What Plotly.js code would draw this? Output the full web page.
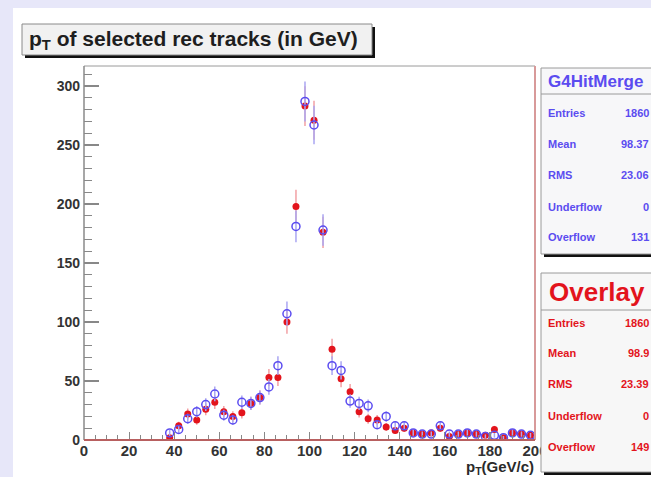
<!DOCTYPE html>
<html>
<head>
<meta charset="utf-8">
<script src="https://cdn.plot.ly/plotly-3.0.1.min.js"></script>
<style>
  html, body { margin: 0; padding: 0; background: #e7e7f9; width: 651px; height: 477px; overflow: hidden; }
  #chart { position: absolute; left: 13px; top: 8px; width: 638px; height: 469px; }
</style>
</head>
<body>
<div id="chart"></div>
<script>
// ---- data ----
const binCenters = [38,42,46,50,54,58,62,66,70,74,78,82,86,90,94,98,102,106,110,114,118,122,126,130,134,138,142,146,150,154,158,162,166,170,174,178,182,186,190,194,198];
const g4HitMerge = [6,9,18,24,30,39,21,17,32,31,36,45,63,107,181,287,267,178,63,59,33,31,29,13,20,12,12,6,5,5,12,5,5,6,5,3,4,2,6,5,4];
const overlay    = [2,12,22,17,26,32,24,20,23,31,36,53,53,100,198,283,271,176,77,52,41,24,18,17,11,8,10,6,5,6,10,3,5,6,5,4,9,2,6,5,4];
const xTickVals = [0,20,40,60,80,100,120,140,160,180,200];
const yTickVals = [0,50,100,150,200,250,300];
const statLabels = ["Entries","Mean","RMS","Underflow","Overflow"];
const statsG4 = ["1860","98.37","23.06","0","131"];
const statsOverlay = ["1860","98.9","23.39","0","149"];
const titleText = "p<sub>T</sub> of selected rec tracks (in GeV)";
const xTitleText = "p<sub>T</sub>(GeV/c)";

// ---- geometry helpers (full-image pixel -> paper coords) ----
const OX = 13, OY = 8, W = 638, H = 469;
const ML = 71, MR = 116, MT = 58, MB = 37;
const PW = W - ML - MR, PH = H - MT - MB;
const X = px => (px - OX - ML) / PW;
const Y = py => (H - MB - (py - OY)) / PH;

const RED = '#e3141c', BLUE = '#5b4cf0';
const font = 'Liberation Sans, Arial, Helvetica, sans-serif';

const traces = [
  { x: binCenters, y: overlay, type: 'scatter', mode: 'markers', name: 'Overlay',
    marker: { symbol: 'circle', size: 7, color: RED },
    error_y: { type: 'sqrt', visible: true, color: '#f2a0a4', thickness: 1.5, width: 0 } },
  { x: binCenters, y: g4HitMerge, type: 'scatter', mode: 'markers', name: 'G4HitMerge',
    marker: { symbol: 'circle-open', size: 8, color: BLUE, line: { width: 1.5, color: BLUE } },
    error_y: { type: 'sqrt', visible: true, color: '#aaa6f2', thickness: 1.5, width: 0 } }
];

const shapes = [];
const annotations = [];
function rect(x0, y0, x1, y1, fill, line, lw) {
  shapes.push({ type: 'rect', xref: 'paper', yref: 'paper', x0: X(x0), x1: X(x1), y0: Y(y1), y1: Y(y0),
    fillcolor: fill, line: { color: line || 'rgba(0,0,0,0)', width: lw || 0 }, layer: 'above' });
}
function hline(x0, x1, y, color, w) {
  shapes.push({ type: 'line', xref: 'paper', yref: 'paper', x0: X(x0), x1: X(x1), y0: Y(y), y1: Y(y),
    line: { color: color, width: w }, layer: 'above' });
}
function vline(x, y0, y1, color, w) {
  shapes.push({ type: 'line', xref: 'paper', yref: 'paper', x0: X(x), x1: X(x), y0: Y(y0), y1: Y(y1),
    line: { color: color, width: w }, layer: 'above' });
}
function text(t, px, py, size, color, anchor) {
  annotations.push({ text: t, xref: 'paper', yref: 'paper', x: X(px), y: Y(py), showarrow: false,
    xanchor: anchor || 'left', yanchor: 'middle', font: { family: font, size: size, color: color, weight: 'bold' } });
}

// frame
hline(84, 535, 66, '#9a9a9a', 1);
vline(84, 66, 440, '#8a8a8a', 1.5);
vline(535, 66, 440, '#d89a9a', 2);
hline(84, 535, 440, '#b86060', 2);

// title box
rect(25, 27, 375, 58, '#111111');
rect(22, 24, 372, 55, '#f1f1f1', '#8a8a8a', 1);
text(titleText, 27, 40, 21, '#1e1e1e');

// stats box 1
rect(544, 71, 660, 257, '#111111');
rect(541, 68, 660, 254, '#f7f7f9', '#9a9a9a', 1);
hline(541, 660, 94, '#9a9a9a', 1);
text('G4HitMerge', 546, 81, 17, BLUE);
const rows1 = [113, 144, 175, 207, 237];
statLabels.forEach((l, i) => { text(l, 546, rows1[i], 11, BLUE); text(statsG4[i], 651, rows1[i], 11, BLUE, 'right'); });

// stats box 2
rect(544, 276, 660, 475, '#111111');
rect(541, 273, 660, 472, '#f7f7f7', '#9a9a9a', 1);
hline(541, 660, 310, '#9a9a9a', 1);
text('Overlay', 547, 292, 26, RED);
const rows2 = [323, 353, 384, 416, 447];
statLabels.forEach((l, i) => { text(l, 546, rows2[i], 11, RED); text(statsOverlay[i], 651, rows2[i], 11, RED, 'right'); });

// x axis title
text(xTitleText, 536, 467, 15, '#2a2a2a', 'right');

const layout = {
  width: W, height: H,
  margin: { l: ML, r: MR, t: MT, b: MB, pad: 0 },
  paper_bgcolor: '#ffffff', plot_bgcolor: '#ffffff',
  showlegend: false,
  xaxis: {
    range: [0, 200], tickvals: xTickVals, ticktext: xTickVals.map(String),
    ticks: 'inside', ticklen: 8, tickwidth: 1.2, tickcolor: '#888888',
    minor: { ticks: 'inside', ticklen: 5, tickwidth: 1, tickcolor: '#888888', dtick: 5 },
    showgrid: false, zeroline: false, showline: false,
    tickfont: { family: font, size: 15, color: '#333333', weight: 'bold' }
  },
  yaxis: {
    range: [0, 317], tickvals: yTickVals, ticktext: yTickVals.map(String),
    ticks: 'inside', ticklen: 15, tickwidth: 1.2, tickcolor: '#888888',
    minor: { ticks: 'inside', ticklen: 8, tickwidth: 1, tickcolor: '#888888', dtick: 10 },
    showgrid: false, zeroline: false, showline: false, ticklabelstandoff: 3,
    tickfont: { family: font, size: 14, color: '#333333', weight: 'bold' }
  },
  shapes: shapes,
  annotations: annotations
};

Plotly.newPlot('chart', traces, layout, { displayModeBar: false, staticPlot: true });
</script>
</body>
</html>
